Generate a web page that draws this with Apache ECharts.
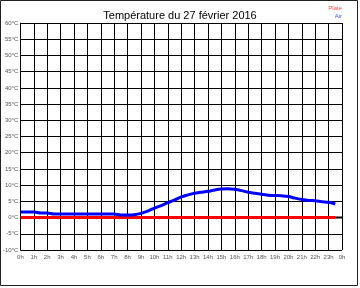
<!DOCTYPE html>
<html><head><meta charset="utf-8">
<script src="https://cdn.jsdelivr.net/npm/echarts@6/dist/echarts.min.js"></script>
<style>html,body{margin:0;padding:0;background:#fff}#c{width:360px;height:288px}</style>
</head><body><div id="c"></div>
<script>
const titleText = 'Température du 27 février 2016';
const hours = [0,0.5,1,1.5,2,2.5,3,3.5,4,4.5,5,5.5,6,6.5,7,7.5,8,8.5,9,9.5,10,10.5,11,11.5,12,12.5,13,13.5,14,14.5,15,15.5,16,16.5,17,17.5,18,18.5,19,19.5,20,20.5,21,21.5,22,22.5,23,23.5];
const airTemp = [1.7,1.7,1.7,1.4,1.4,1.1,1.1,1.1,1.1,1.1,1.1,1.1,1.1,1.1,1.1,0.8,0.8,0.9,1.3,2.0,2.9,3.7,4.6,5.4,6.4,7.0,7.5,7.8,8.1,8.5,8.8,8.9,8.7,8.3,7.8,7.5,7.2,6.9,6.8,6.7,6.5,6.0,5.6,5.3,5.2,4.9,4.7,4.2];
const plateTemp = [0,0,0,0,0,0,0,0,0,0,0,0,0,0,0,0,0,0,0,0,0,0,0,0,0,0,0,0,0,0,0,0,0,0,0,0,0,0,0,0,0,0,0,0,0,0,0,0];
const zeroHours = [0, 24];
const zeroValues = [0, 0];
const legendNames = ['Plate', 'Air'];

const chart = echarts.init(document.getElementById('c'), null, {renderer: 'canvas'});
const pair = (xs, ys) => xs.map((x, i) => [x, ys[i]]);
chart.setOption({
  animation: false,
  backgroundColor: '#fff',
  title: {text: titleText, left: 'center', top: 5, textStyle: {fontFamily: 'Liberation Sans', fontSize: 11, fontWeight: 'normal', color: '#000'}},
  grid: {left: 17, top: 23, width: 325, height: 227, show: false},
  xAxis: {type: 'value', min: 0, max: 24, interval: 1,
    axisLine: {show: true, lineStyle: {color: '#000', width: 1}},
    axisTick: {show: false},
    splitLine: {show: true, lineStyle: {color: '#000', width: 1}},
    axisLabel: {fontFamily: 'Liberation Sans', fontSize: 6, color: '#555', margin: 4, formatter: v => (v % 24) + 'h'}},
  yAxis: {type: 'value', min: -10, max: 60, interval: 5,
    axisLine: {show: true, lineStyle: {color: '#000', width: 1}},
    axisTick: {show: false},
    splitLine: {show: true, lineStyle: {color: '#000', width: 1}},
    axisLabel: {fontFamily: 'Liberation Sans', fontSize: 6, color: '#555', margin: 2, formatter: v => v + '°C'}},
  series: [
    {name: 'zero', type: 'line', data: pair(zeroHours, zeroValues), symbol: 'none', z: 1, silent: true,
      lineStyle: {color: '#000', width: 2}},
    {name: legendNames[0], type: 'line', data: pair(hours, plateTemp), symbol: 'none', z: 2,
      lineStyle: {color: '#ff0000', width: 3}},
    {name: legendNames[1], type: 'line', data: pair(hours, airTemp), symbol: 'none', z: 3, smooth: 0.3,
      lineStyle: {color: '#0000ff', width: 3}}
  ],
  graphic: [
    {type: 'rect', shape: {x: 0.5, y: 0.5, width: 357, height: 285}, style: {fill: 'none', stroke: '#222', lineWidth: 1}, silent: true},
    {type: 'text', right: 18, top: 5, style: {text: legendNames[0], fill: '#ff5050', font: '6px Liberation Sans', textAlign: 'right'}},
    {type: 'text', right: 18, top: 13, style: {text: legendNames[1], fill: '#5050ff', font: '6px Liberation Sans', textAlign: 'right'}}
  ]
});
</script></body></html>
